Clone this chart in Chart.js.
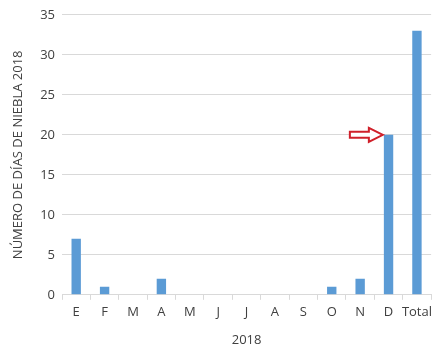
<!DOCTYPE html>
<html lang="es">
<head>
<meta charset="UTF-8">
<title>Días de niebla 2018</title>
<script src="https://cdn.jsdelivr.net/npm/chart.js"></script>
<style>
    html, body { margin: 0; padding: 0; background: #fff; }
    #wrap { width: 437px; height: 357px; position: relative; }
</style>
</head>
<body>
<div id="wrap"><canvas id="fogChart"></canvas></div>
<script>
    // Monthly fog days for 2018 plus the yearly total
    const months = ['E', 'F', 'M', 'A', 'M', 'J', 'J', 'A', 'S', 'O', 'N', 'D', 'Total'];
    const fogDays = [7, 1, 0, 2, 0, 0, 0, 0, 0, 1, 2, 20, 33];
    const yTicks = [0, 5, 10, 15, 20, 25, 30, 35];

    // index of the bar the red arrow points at
    const arrowIndex = 11;

    const fontFamily = "'Open Sans', 'Noto Sans', sans-serif";
    const textColor = '#404040';

    // outlined arrow pointing at the December bar
    const arrowPlugin = {
        id: 'arrow',
        afterDatasetsDraw(chart) {
            const ctx = chart.ctx;
            const bar = chart.getDatasetMeta(0).data[arrowIndex];
            const y = chart.scales.y.getPixelForValue(fogDays[arrowIndex]);
            const tip = bar.x - bar.width / 2 - 1;
            const headLen = 14, headH = 7, shaftH = 3, shaftLen = 19;
            ctx.save();
            ctx.beginPath();
            ctx.moveTo(tip, y);
            ctx.lineTo(tip - headLen, y - headH);
            ctx.lineTo(tip - headLen, y - shaftH);
            ctx.lineTo(tip - headLen - shaftLen, y - shaftH);
            ctx.lineTo(tip - headLen - shaftLen, y + shaftH);
            ctx.lineTo(tip - headLen, y + shaftH);
            ctx.lineTo(tip - headLen, y + headH);
            ctx.closePath();
            ctx.fillStyle = '#ffffff';
            ctx.fill();
            ctx.lineWidth = 2;
            ctx.strokeStyle = '#d0202a';
            ctx.stroke();
            ctx.restore();
        }
    };

    new Chart(document.getElementById('fogChart'), {
        type: 'bar',
        data: {
            labels: months,
            datasets: [{
                data: fogDays,
                backgroundColor: '#5b9bd5',
                categoryPercentage: 1,
                barPercentage: 0.33
            }]
        },
        options: {
            responsive: true,
            maintainAspectRatio: false,
            animation: false,
            layout: { padding: { top: 13, right: 0, bottom: 9, left: 10 } },
            plugins: {
                legend: { display: false },
                tooltip: { enabled: false }
            },
            scales: {
                x: {
                    grid: {
                        offset: true,
                        drawOnChartArea: false,
                        tickLength: 5,
                        color: '#d9d9d9'
                    },
                    border: { color: '#d9d9d9' },
                    ticks: {
                        color: textColor,
                        font: { family: fontFamily, size: 13 },
                        padding: 5,
                        maxRotation: 0,
                        autoSkip: false
                    },
                    title: {
                        display: true,
                        text: '2018',
                        color: textColor,
                        font: { family: fontFamily, size: 13 },
                        padding: { top: 7, bottom: 0 }
                    }
                },
                y: {
                    min: 0,
                    max: 35,
                    afterBuildTicks(scale) {
                        scale.ticks = yTicks.map(v => ({ value: v }));
                    },
                    afterFit(scale) {
                        scale.width = 52;
                    },
                    grid: { color: '#d9d9d9', drawTicks: false },
                    border: { display: false },
                    ticks: {
                        color: textColor,
                        font: { family: fontFamily, size: 13 },
                        padding: 7
                    },
                    title: {
                        display: true,
                        text: 'NÚMERO DE DÍAS DE NIEBLA 2018',
                        color: textColor,
                        font: { family: fontFamily, size: 13 },
                        padding: { top: 0, bottom: 2 }
                    }
                }
            }
        },
        plugins: [arrowPlugin]
    });
</script>
</body>
</html>
